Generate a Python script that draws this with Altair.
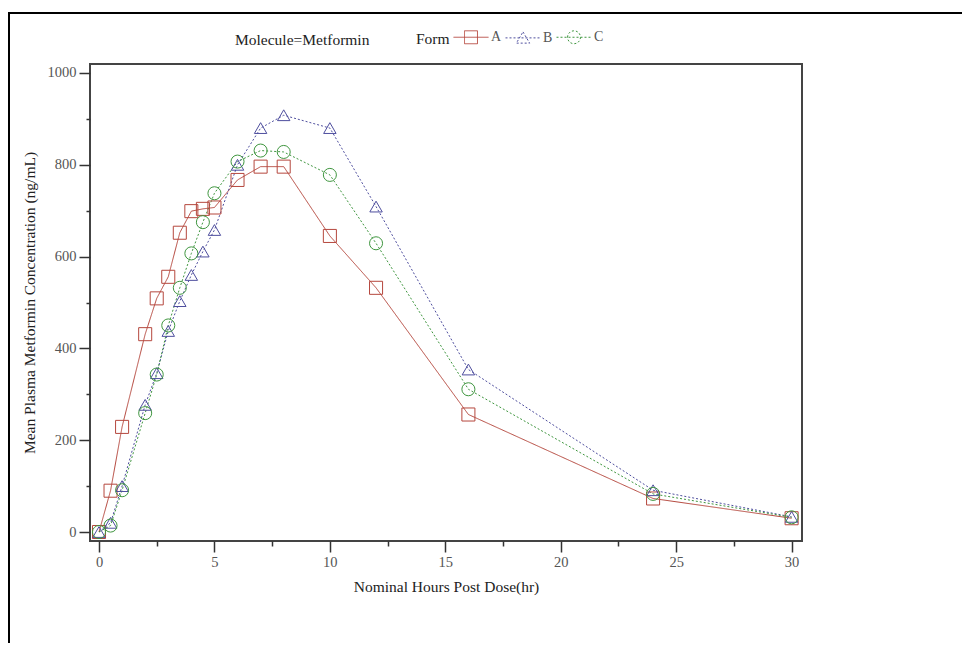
import altair as alt
import pandas as pd

# ---- data ----
hours = [0, 0.5, 1, 2, 2.5, 3, 3.5, 4, 4.5, 5, 6, 7, 8, 10, 12, 16, 24, 30]
form_a = [0, 90, 229, 431, 509, 556, 652, 699, 704, 707, 767, 796, 796, 645, 532, 256, 73, 30]
form_b = [0, 20, 100, 277, 346, 438, 503, 560, 611, 658, 800, 880, 908, 880, 709, 354, 91, 33]
form_c = [0, 14, 91, 259, 343, 450, 532, 607, 675, 738, 807, 831, 828, 778, 629, 311, 83, 32]

forms = ["A", "B", "C"]
x_major = [0, 5, 10, 15, 20, 25, 30]
x_minor = [2.5, 7.5, 12.5, 17.5, 22.5, 27.5]
y_major = [0, 200, 400, 600, 800, 1000]
y_minor = [100, 300, 500, 700, 900]

# ---- styles ----
colors = ["#B5473D", "#4E4E9E", "#3F963F"]
dashes = [[1, 0], [2, 2], [2, 2]]
shapes = ["square", "triangle-up", "circle"]
legend_paths = [
    "M-1,0H1M-0.37,-0.37H0.37V0.37H-0.37Z",
    "M-1,0H1M0,-0.34L0.38,0.3H-0.38Z",
    "M-1,0H1M-0.37,0A0.37,0.37,0,1,1,0.37,0A0.37,0.37,0,1,1,-0.37,0Z",
]
FONT = "Liberation Serif"

rows = []
for f, vals in zip(forms, [form_a, form_b, form_c]):
    for h, v in zip(hours, vals):
        rows.append({"Hour": h, "Conc": v, "Form": f})
df = pd.DataFrame(rows)

x_scale = alt.Scale(domain=[-0.39, 30.45], nice=False, zero=False)
y_scale = alt.Scale(domain=[-19.6, 1019.6], nice=False, zero=False)
color_scale = alt.Scale(domain=forms, range=colors)
dash_scale = alt.Scale(domain=forms, range=dashes)
shape_scale = alt.Scale(domain=forms, range=legend_paths)

x_major_axis = alt.Axis(values=x_major, tickSize=11, labelPadding=3, domain=False, grid=False,
                        labelFlush=False, orient="bottom", format="d",
                        title="Nominal Hours Post Dose(hr)", titlePadding=11)
x_minor_axis = alt.Axis(values=x_minor, tickSize=5, labels=False, domain=False, grid=False,
                        orient="bottom", title=None)
y_major_axis = alt.Axis(values=y_major, tickSize=11, labelPadding=3, domain=False, grid=False,
                        labelFlush=False, orient="left", format="d",
                        title="Mean Plasma Metformin Concentration (ng/mL)", titlePadding=10)
y_minor_axis = alt.Axis(values=y_minor, tickSize=4, labels=False, domain=False, grid=False,
                        orient="left", title=None)

legend_def = alt.Legend(
    orient="none", legendX=326, legendY=-45, direction="horizontal",
    title="Form", titleOrient="left", titlePadding=3, titleFont=FONT, titleFontSize=15.5,
    titleFontWeight="normal", titleColor="#222", titleBaseline="top", titleAnchor="middle",
    labelFont=FONT, labelFontSize=14, labelColor="#555", labelOffset=2, labelBaseline="middle",
    symbolSize=1225, symbolStrokeWidth=1, columnPadding=1, padding=0,
)

frame = alt.Chart(alt.Data(values=[{"k": 1}])).mark_rect(
    fillOpacity=0, stroke="black", strokeWidth=2
).encode(x=alt.value(-81), x2=alt.value(900), y=alt.value(-51), y2=alt.value(700))

lines = alt.Chart(df).mark_line(strokeWidth=1).encode(
    x=alt.X("Hour:Q", scale=x_scale, axis=x_major_axis),
    y=alt.Y("Conc:Q", scale=y_scale, axis=y_major_axis),
    color=alt.Color("Form:N", scale=color_scale, legend=legend_def),
    strokeDash=alt.StrokeDash("Form:N", scale=dash_scale, legend=legend_def),
    detail="Form:N",
)

point_layers = []
for i, (f, shp) in enumerate(zip(forms, shapes)):
    sz = 155 if shp == "triangle-up" else 170
    pl = alt.Chart(df).transform_filter(alt.datum.Form == f).mark_point(
        shape=shp, filled=False, size=sz, strokeWidth=1, opacity=1
    ).encode(
        x=alt.X("Hour:Q", scale=x_scale, axis=(x_minor_axis if i == 0 else None)),
        y=alt.Y("Conc:Q", scale=y_scale, axis=(y_minor_axis if i == 0 else None)),
        color=alt.Color("Form:N", scale=color_scale, legend=legend_def),
    )
    point_layers.append(pl)

legend_layer = alt.Chart(df).transform_filter("false").mark_point(
    filled=False, strokeWidth=1, opacity=1
).encode(
    color=alt.Color("Form:N", scale=color_scale, legend=legend_def),
    shape=alt.Shape("Form:N", scale=shape_scale, legend=legend_def),
    strokeDash=alt.StrokeDash("Form:N", scale=dash_scale, legend=legend_def),
)

chart = alt.layer(frame, lines, *point_layers, legend_layer).resolve_axis(
    x="independent", y="independent"
).properties(
    width=712,
    height=477,
    autosize=alt.AutoSizeParams(type="none"),
    padding={"left": 82, "top": 56, "right": 160, "bottom": 102},
    title=alt.TitleParams(
        "Molecule=Metformin", anchor="start", dx=145, offset=-48, frame="group",
        font=FONT, fontSize=15.5, fontWeight="normal", color="#222", baseline="alphabetic",
    ),
).configure(
    font=FONT, background="white"
).configure_view(
    stroke="#444", strokeWidth=2
).configure_axis(
    labelFont=FONT, labelFontSize=14.5, labelColor="#555",
    titleFont=FONT, titleFontSize=15.5, titleFontWeight="normal", titleColor="#222",
    tickColor="#333", tickWidth=1.5,
)

chart.save("out.html", embed_options={"renderer": "svg", "actions": False})
